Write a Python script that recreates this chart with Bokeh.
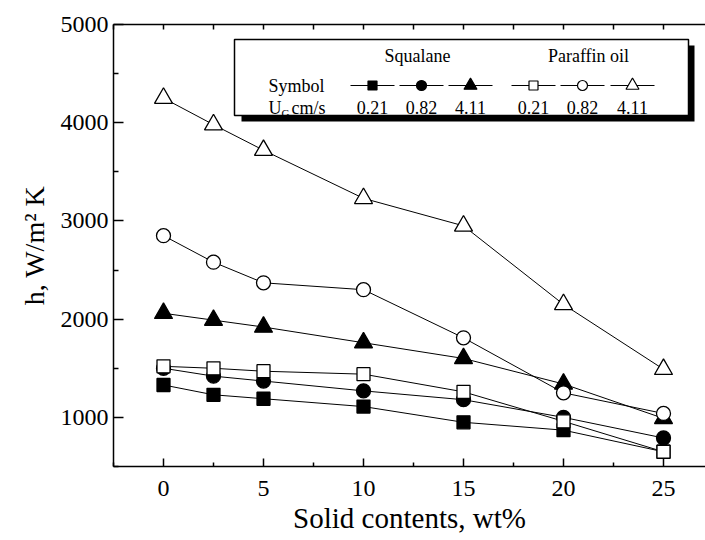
from bokeh.plotting import figure
from bokeh.models import Range1d, FixedTicker, LinearAxis, Label
from bokeh.embed import file_html
from bokeh.resources import INLINE

# ---- data ----
solid = [0, 2.5, 5, 10, 15, 20, 25]
squalane_021 = [1330, 1230, 1190, 1110, 950, 870, 650]
squalane_082 = [1500, 1420, 1370, 1270, 1180, 1000, 790]
squalane_411 = [2060, 1990, 1920, 1760, 1600, 1340, 990]
paraffin_021 = [1520, 1500, 1470, 1440, 1260, 960, 650]
paraffin_082 = [2850, 2580, 2370, 2300, 1810, 1250, 1040]
paraffin_411 = [4250, 3980, 3720, 3230, 2950, 2150, 1490]
ug_labels = ["0.21", "0.82", "4.11"]
x_ticks = [0, 5, 10, 15, 20, 25]
x_minor = [-2.5, 2.5, 7.5, 12.5, 17.5, 22.5, 27.5]
x_all = [-2.5, 0, 2.5, 5, 7.5, 10, 12.5, 15, 17.5, 20, 22.5, 25, 27.5]
y_ticks = [1000, 2000, 3000, 4000, 5000]
y_minor = [500, 1500, 2500, 3500, 4500]

FONT = "Liberation Serif"
W, H = 705, 540
FL, FT, FR, FB = 113, 24, 705, 466   # intended frame edges in page pixels
X0 = -2.5
X1 = X0 + (FR - FL) / 20.0
Y0, Y1 = 500, 5000


def dx(px):
    return X0 + (px - FL) * (X1 - X0) / (FR - FL)


def dy(py):
    return Y1 - (py - FT) * (Y1 - Y0) / (FB - FT)


p = figure(width=W, height=H, x_range=Range1d(X0, X1), y_range=Range1d(Y0, Y1),
           output_backend="svg", toolbar_location=None,
           min_border_left=FL, min_border_right=0, min_border_top=FT,
           min_border_bottom=H - FB)
p.outline_line_color = None
p.xgrid.visible = False
p.ygrid.visible = False
p.background_fill_color = "white"
p.border_fill_color = "white"

# x axis (bottom)
xa = p.xaxis[0]
xa.ticker = FixedTicker(ticks=x_ticks, minor_ticks=x_minor)
xa.major_tick_in = 8
xa.major_tick_out = 0
xa.minor_tick_in = 4
xa.minor_tick_out = 0
xa.axis_line_width = 1.5
xa.major_tick_line_width = 1.5
xa.minor_tick_line_width = 1.5
xa.major_label_text_font = FONT
xa.major_label_text_font_size = "24px"
xa.major_label_text_color = "black"
xa.major_label_standoff = 14
xa.axis_label = "Solid contents, wt%"
xa.axis_label_text_font = FONT
xa.axis_label_text_font_size = "29px"
xa.axis_label_text_font_style = "normal"
xa.axis_label_text_color = "black"
xa.axis_label_standoff = 3

# y axis (left)
ya = p.yaxis[0]
ya.ticker = FixedTicker(ticks=y_ticks, minor_ticks=y_minor)
ya.major_tick_in = 10
ya.major_tick_out = 0
ya.minor_tick_in = 5
ya.minor_tick_out = 0
ya.axis_line_width = 1.5
ya.major_tick_line_width = 1.5
ya.minor_tick_line_width = 1.5
ya.major_label_text_font = FONT
ya.major_label_text_font_size = "24px"
ya.major_label_text_color = "black"
ya.major_label_standoff = 5
ya.axis_label = "h, W/m\u00b2 K"
ya.axis_label_text_font = FONT
ya.axis_label_text_font_size = "28px"
ya.axis_label_text_font_style = "normal"
ya.axis_label_text_color = "black"
ya.axis_label_standoff = 8

# top axis: line + inward ticks only (no labels)
top = LinearAxis(ticker=FixedTicker(ticks=[], minor_ticks=x_all),
                 major_tick_in=0, major_tick_out=0, minor_tick_in=5, minor_tick_out=0,
                 axis_line_width=1.5, minor_tick_line_width=1.5,
                 major_label_standoff=0)
p.add_layout(top, "above")

series = [
    (squalane_021, "square", "black", 13),
    (squalane_082, "circle", "black", 14),
    (squalane_411, "triangle", "black", 18),
    (paraffin_021, "square", "white", 13),
    (paraffin_082, "circle", "white", 14),
    (paraffin_411, "triangle", "white", 18),
]

for vals, mk, fc, sz in series:
    p.line(solid, vals, line_color="black", line_width=1)
for vals, mk, fc, sz in series:
    p.scatter(solid, vals, marker=mk, size=sz, fill_color=fc,
              line_color="black", line_width=1.3)

# ---- legend table ----
p.quad(left=dx(241), right=dx(694), top=dy(45), bottom=dy(121),
       fill_color="black", line_color=None)
p.quad(left=dx(234), right=dx(688), top=dy(39), bottom=dy(115),
       fill_color="white", line_color="black", line_width=1.5)


def lab(px, py, text, align="center", size="18px"):
    p.add_layout(Label(x=dx(px), y=dy(py), text=text, text_align=align,
                       text_baseline="middle", text_font=FONT,
                       text_font_size=size, text_color="black"))


lab(417, 55, "Squalane")
lab(588, 55, "Paraffin oil")
lab(268, 85, "Symbol", align="left")
lab(268, 107, "U", align="left")
lab(281, 112, "G", align="left", size="11px")
lab(291, 107, "cm/s", align="left")

leg_x = [372, 421, 470, 533, 582, 632]
leg_mk = [("square", "black", 9), ("circle", "black", 10), ("triangle", "black", 13),
          ("square", "white", 9), ("circle", "white", 10), ("triangle", "white", 13)]
for cx, (mk, fc, sz), txt in zip(leg_x, leg_mk, ug_labels + ug_labels):
    p.segment(x0=dx(cx - 22), x1=dx(cx + 22), y0=dy(85), y1=dy(85),
              line_color="black", line_width=1)
    p.scatter([dx(cx)], [dy(85)], marker=mk, size=sz, fill_color=fc,
              line_color="black", line_width=1.2)
    lab(cx, 107, txt)

open("out.html", "w").write(file_html(p, INLINE))
